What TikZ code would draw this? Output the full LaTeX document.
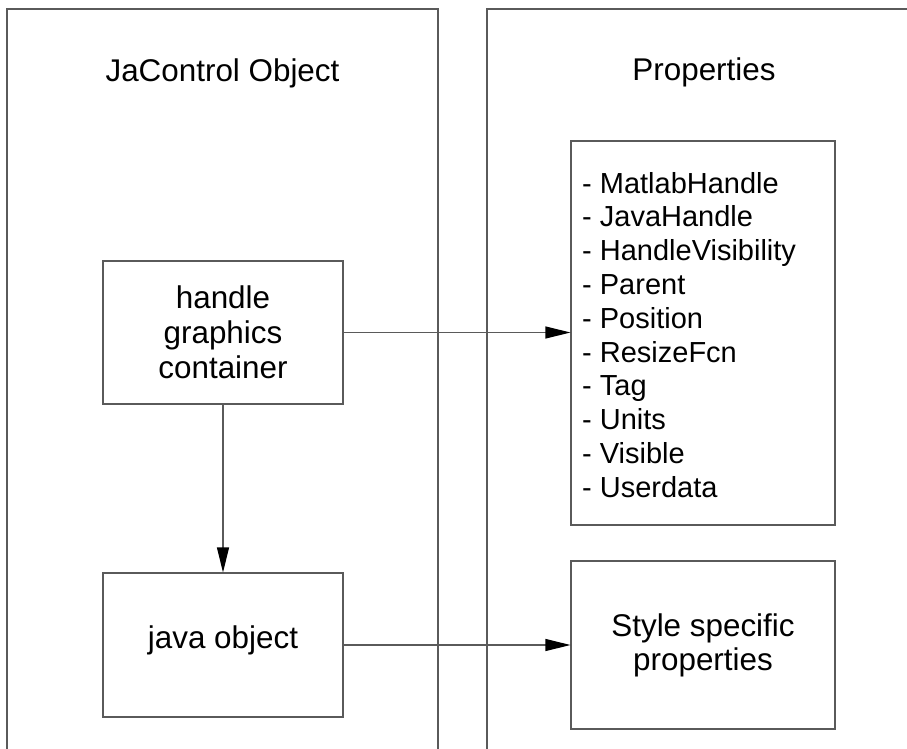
\documentclass[tikz,border=0pt]{standalone}
\usepackage{fontspec}
\setmainfont{Liberation Sans}
\usetikzlibrary{arrows.meta}
\definecolor{linegray}{RGB}{90,90,90}
\tikzset{
  panel/.style={draw=linegray, line width=1.1pt},
  box/.style={draw=linegray, line width=1.1pt, inner sep=0pt, align=center,
    font=\fontsize{31.4}{35}\selectfont},
  titletext/.style={font=\fontsize{31.4}{35}\selectfont, inner sep=0pt, anchor=base},
  listtext/.style={font=\fontsize{29}{34}\selectfont, inner sep=0pt, anchor=base west},
  conn/.style={draw=linegray, line width=1.1pt,
    -{Triangle[length=25pt,width=12pt,color=black,fill=black]}}
}
\begin{document}
\begin{tikzpicture}[x=1pt,y=-1pt]
\useasboundingbox (0,0) rectangle (907,749);
% panels
\draw[panel] (7,752) -- (7,9) -- (438,9) -- (438,752);
\draw[panel] (487,752) -- (487,9) -- (910,9);
% titles
\node[titletext] (t1) at (222.5,82) {JaControl Object};
\node[titletext] (t2) at (704,81) {Properties};
% boxes
\node[box, minimum width=240pt, minimum height=143pt] (hgc) at (223,332.5) {handle\\graphics\\container};
\node[box, minimum width=240pt, minimum height=144pt, text height=0.905em, text depth=0.212em] (java) at (223,645) {java object};
\node[box, minimum width=264pt, minimum height=384pt] (props) at (703,333) {};
\node[box, minimum width=264pt, minimum height=168pt] (style) at (703,645) {Style specific\\[-1pt]properties};
% property list
\foreach \t [count=\i] in {MatlabHandle,JavaHandle,HandleVisibility,Parent,Position,ResizeFcn,Tag,Units,Visible,Userdata}{
  \node[listtext] (p\i) at (582,{193+33.8*(\i-1)}) {- \t};
}
% connectors
\draw[conn] (hgc.east) -- (props.west |- hgc.east);
\draw[conn] (hgc.south) -- (java.north);
\draw[conn] (java.east) -- (style.west);
\end{tikzpicture}
\end{document}
